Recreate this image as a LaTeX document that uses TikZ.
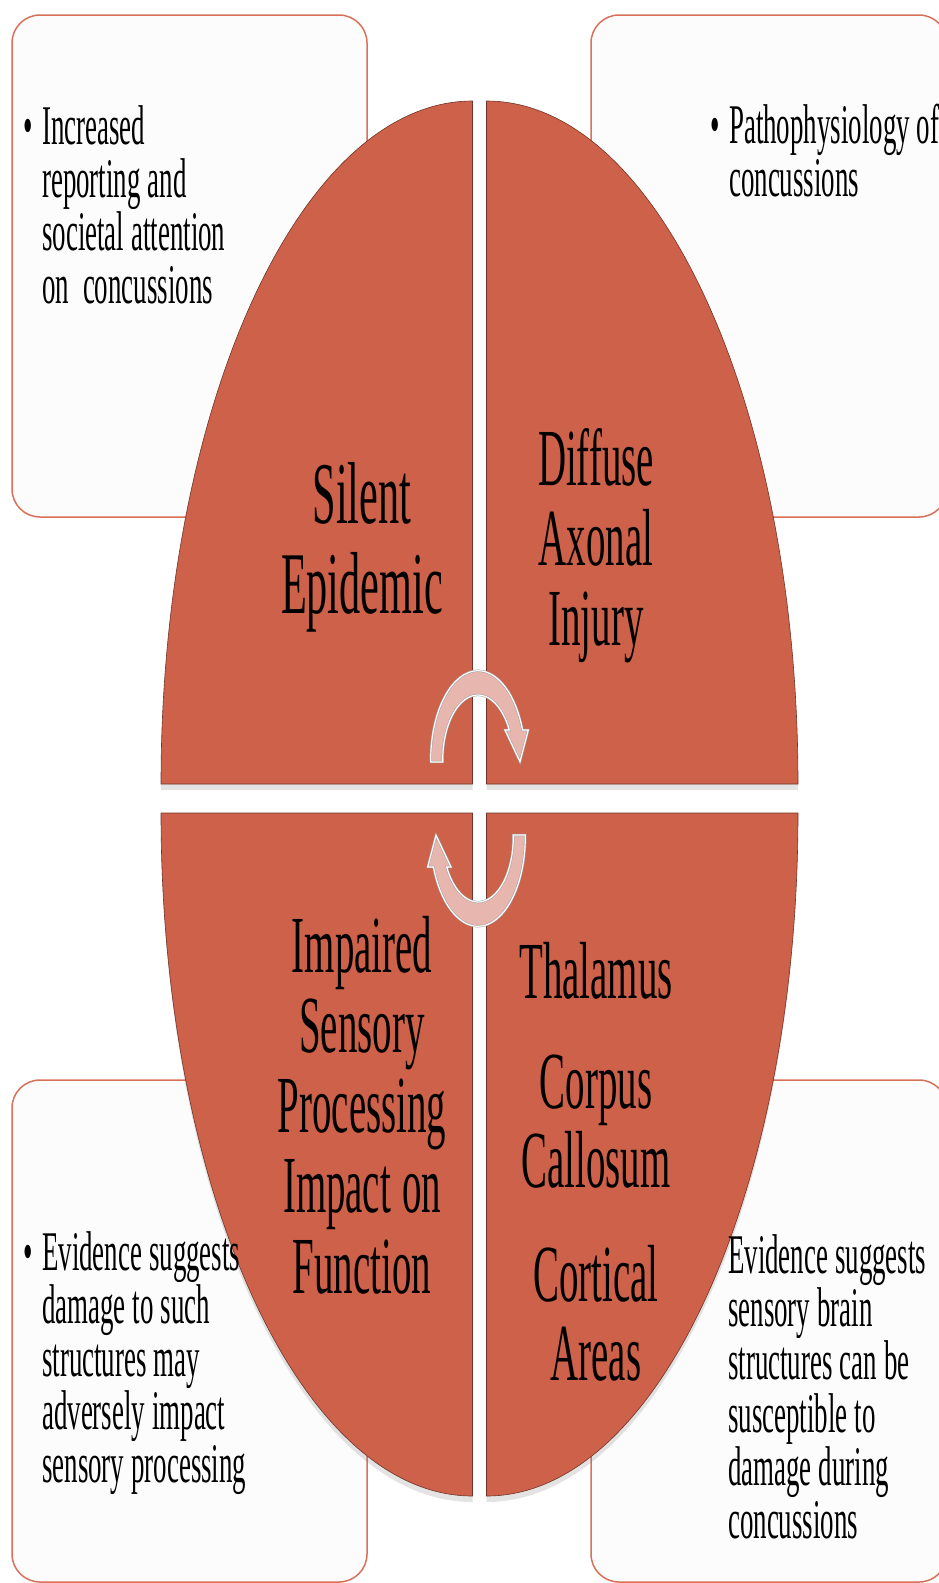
\documentclass[tikz,border=0pt]{standalone}
\usepackage{fontspec}
\usepackage{xcolor}
\usepackage{tikz}
\usetikzlibrary{arrows.meta,positioning,calc,shadows}
\setmainfont[FakeStretch=0.48]{Liberation Serif}
\definecolor{quadred}{RGB}{205,97,73}
\definecolor{boxline}{RGB}{216,112,90}
\definecolor{boxfill}{RGB}{252,252,252}
\definecolor{arrowpink}{RGB}{231,182,175}
\newcommand\notesize{\fontsize{56}{53}\selectfont\spaceskip 7pt\relax}
\newcommand\quadsize{\fontsize{81}{80.3}\selectfont\spaceskip 11pt\relax}

\begin{document}
\begin{tikzpicture}[x=1pt,y=-1pt]
  \tikzstyle{card}=[draw=boxline,line width=1.5pt,fill=boxfill,rounded corners=28pt,inner sep=0pt,minimum height=502pt]
  \tikzstyle{quad}=[fill=quadred,draw=quadred!55!black,line width=0.6pt,drop shadow={shadow xshift=0pt,shadow yshift=-6pt,opacity=0.22}]
  \tikzstyle{turn}=[fill=arrowpink,draw=gray!75,double=white,double distance=1.2pt,line width=0.5pt]
  \tikzstyle{quadtext}=[inner sep=0pt,text width=300pt,align=flush center,anchor=base]
  \tikzstyle{note}=[inner sep=0pt,text width=260pt,align=flush left,anchor=base west,font=\notesize]
  \useasboundingbox (0,0) rectangle (938,1583);
  \node[card,minimum width=355pt] (cardtl) at (189.5,266) {};
  \node[card,minimum width=356pt] (cardtr) at (769,266) {};
  \node[card,minimum width=355pt] (cardbl) at (189.5,1331) {};
  \node[card,minimum width=356pt] (cardbr) at (769,1331) {};
  \draw[quad] (472.5,784) -- (161,784) arc (180:270:311.5 and 683) -- cycle;
  \draw[quad] (486.5,784) -- (486.5,101) arc (270:360:311.5 and 683) -- cycle;
  \draw[quad] (472.5,813) -- (161,813) arc (180:90:311.5 and 683) -- cycle;
  \draw[quad] (486.5,813) -- (798,813) arc (0:90:311.5 and 683) -- cycle;
  \foreach \ang in {0,180}
    \draw[turn,rotate around={\ang:(478,798.5)}] (430.7,762) -- (430.7,760) arc (180:340.4:47.3 and 89.3)
      -- (528.3,730) -- (520,761.7) -- (505,730) -- (509.3,730) arc (332.5:180:35.3 and 65) -- (442.7,762) -- cycle;
  \node[quadtext,font=\fontsize{88}{90}\selectfont] (silent) at (362,523) {Silent\\Epidemic};
  \node[quadtext,font=\fontsize{81}{80}\selectfont] (axonal) at (596,485) {Diffuse\\Axonal\\Injury};
  \node[quadtext,font=\quadsize] (sensory) at (362,972) {Impaired\\Sensory\\Processing\\Impact on\\Function};
  \node[quadtext,font=\fontsize{81}{79}\selectfont] (areas) at (596,998) {Thalamus\\[31pt]Corpus\\Callosum\\[35pt]Cortical\\Areas};
  \node[note] (attention) at (42,144) {\llap{\textbullet\hspace{9pt}}Increased\\reporting and\\societal attention\\on\ \ concussions};
  \node[note] (patho) at (729,143) {\llap{\textbullet\hspace{9pt}}Pathophysiology of\\concussions};
  \node[note] (damage) at (42,1270) {\llap{\textbullet\hspace{9pt}}Evidence suggests\\damage to such\\structures may\\adversely impact\\sensory processing};
  \node[note] (suscept) at (728,1273) {Evidence suggests\\sensory brain\\structures can be\\susceptible to\\damage during\\concussions};
\end{tikzpicture}
\end{document}
